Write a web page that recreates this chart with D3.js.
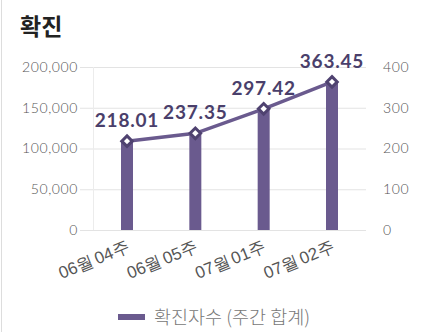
<!DOCTYPE html>
<html><head><meta charset="utf-8">
<script src="https://cdn.jsdelivr.net/npm/d3@7"></script>
<style>
body{margin:0;background:#fff;}
svg{display:block;font-family:Lato,"Noto Sans CJK KR",sans-serif;}
</style></head>
<body><svg id="c" width="424" height="332"></svg>
<script>
const categories = ["06월 04주","06월 05주","07월 01주","07월 02주"];
const barValues = [109005, 118675, 148710, 181725];
const lineValues = [218.01, 237.35, 297.42, 363.45];
const leftTicks = [0, 50000, 100000, 150000, 200000];
const rightTicks = [0, 100, 200, 300, 400];
const title = "확진";
const legendLabel = "확진자수 (주간 합계)";

const color = "#6a5a8e";
const svg = d3.select("#c");

svg.append("line").attr("x1",1.5).attr("x2",1.5).attr("y1",0).attr("y2",332).attr("stroke","#ddd");

svg.append("text").attr("x",20).attr("y",35).text(title)
  .attr("font-size",23).attr("font-weight",700).attr("fill","#222")
  .attr("font-family","'Noto Sans CJK KR',sans-serif");

const x = d3.scalePoint().domain(categories).range([127,332]);
const bw = 12;
const yL = d3.scaleLinear().domain([0,200000]).range([230,67]);
const yR = d3.scaleLinear().domain([0,400]).range([230,67]);

// gridlines
svg.append("g").selectAll("line").data(leftTicks).join("line")
  .attr("x1",80).attr("x2",366).attr("y1",d=>yL(d)+0.5).attr("y2",d=>yL(d)+0.5)
  .attr("stroke","#e3e3e3");
svg.append("line").attr("x1",93.5).attr("x2",93.5).attr("y1",67).attr("y2",230).attr("stroke","#ececec");

// left axis
const gl = svg.append("g").attr("transform","translate(78,0)")
  .call(d3.axisLeft(yL).tickValues(leftTicks).tickFormat(d3.format(",")).tickSize(0).tickPadding(0));
gl.select(".domain").remove();
gl.selectAll("text").attr("font-size",14).attr("letter-spacing",0.6).attr("fill","#555")
  .attr("font-weight",300).attr("font-family","Lato,sans-serif");

// right axis
const gr = svg.append("g").attr("transform","translate(383,0)")
  .call(d3.axisRight(yR).tickValues(rightTicks).tickSize(0).tickPadding(0));
gr.select(".domain").remove();
gr.selectAll("text").attr("font-size",14).attr("letter-spacing",0.6).attr("fill","#555")
  .attr("font-weight",300).attr("font-family","Lato,sans-serif");

// bars
svg.append("g").selectAll("rect").data(barValues).join("rect")
  .attr("x",(d,i)=>x(categories[i])-bw/2).attr("width",bw)
  .attr("y",d=>yL(d)).attr("height",d=>yL(0)-yL(d)).attr("fill",color);

// x axis labels
const gx = svg.append("g").attr("transform","translate(0,232)")
  .call(d3.axisBottom(x).tickSize(0).tickPadding(0));
gx.select(".domain").remove();
gx.selectAll("text").attr("font-size",17).attr("fill","#555").attr("font-weight",300)
  .attr("word-spacing",-2)
  .attr("text-anchor","end").attr("dy",0)
  .attr("transform","translate(3,19) rotate(-22)");

// line
const line = d3.line().x((d,i)=>x(categories[i])).y(d=>yR(d));
svg.append("path").datum(lineValues).attr("d",line).attr("fill","none")
  .attr("stroke",color).attr("stroke-width",3.5);

// markers
svg.append("g").selectAll("path").data(lineValues).join("path")
  .attr("d",d3.symbol().type(d3.symbolDiamond2).size(70))
  .attr("transform",(d,i)=>`translate(${x(categories[i])},${yR(d)})`)
  .attr("fill","#fff").attr("stroke","#4f4270").attr("stroke-width",3);

// labels
svg.append("g").selectAll("text").data(lineValues).join("text")
  .attr("x",(d,i)=>x(categories[i])).attr("y",d=>yR(d)-14)
  .attr("text-anchor","middle").attr("font-size",19).attr("font-weight",700)
  .attr("letter-spacing",0.8)
  .attr("fill","#4a3f6b").attr("font-family","Lato,sans-serif")
  .text(d=>d3.format(".2f")(d));

// legend
svg.append("rect").attr("x",118).attr("y",314).attr("width",27).attr("height",6).attr("fill",color);
svg.append("text").attr("x",154).attr("y",324).text(legendLabel)
  .attr("font-size",18.5).attr("font-weight",300).attr("fill","#777").attr("font-family","'Noto Sans CJK KR',sans-serif");
</script></body></html>
